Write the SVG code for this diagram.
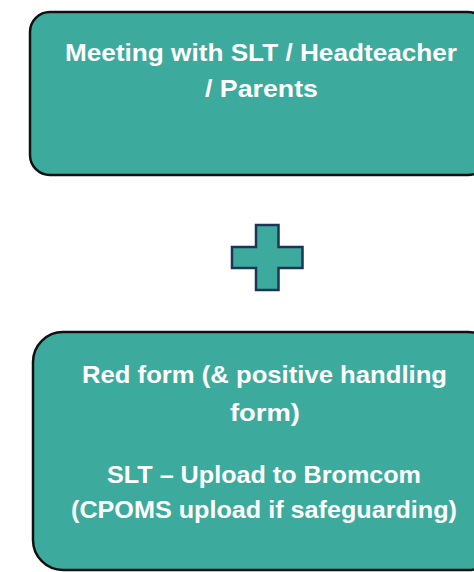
<svg xmlns="http://www.w3.org/2000/svg" width="474" height="572" viewBox="0 0 474 572">
<style>
.box{fill:#3cab9d;stroke:#111;stroke-width:2.5}
.t{fill:#fff;font-family:"Liberation Sans",Arial,sans-serif;font-weight:bold;font-size:24px;text-anchor:middle}
.plus{fill:#3cab9d;stroke:#1f3557;stroke-width:2.5;stroke-linejoin:miter}
</style>
<rect width="474" height="572" fill="#fff"/>
<g id="node-meeting">
<rect class="box" x="30" y="12" width="458" height="163" rx="20"/>
<text class="t" x="261" y="61" textLength="392" lengthAdjust="spacingAndGlyphs">Meeting with SLT / Headteacher</text>
<text class="t" x="261.5" y="97" textLength="113" lengthAdjust="spacingAndGlyphs">/ Parents</text>
</g>
<g id="node-plus">
<path class="plus" d="M256 225 H278.5 V247 H302.5 V268 H278.5 V290 H256 V268 H232 V247 H256 Z"/>
</g>
<g id="node-redform">
<rect class="box" x="33" y="332" width="465" height="238" rx="30"/>
<text class="t" x="264.5" y="383" textLength="365" lengthAdjust="spacingAndGlyphs">Red form (&amp; positive handling</text>
<text class="t" x="265" y="421" textLength="70" lengthAdjust="spacingAndGlyphs">form)</text>
<text class="t" x="264" y="483" textLength="314" lengthAdjust="spacingAndGlyphs">SLT – Upload to Bromcom</text>
<text class="t" x="264" y="518" textLength="386" lengthAdjust="spacingAndGlyphs">(CPOMS upload if safeguarding)</text>
</g>
<g id="connectors"></g>
</svg>
